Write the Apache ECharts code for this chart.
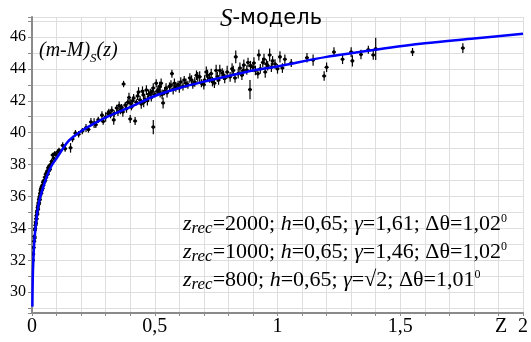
<!DOCTYPE html>
<html>
<head>
<meta charset="utf-8">
<script src="https://cdn.jsdelivr.net/npm/echarts@6/dist/echarts.min.js"></script>
<style>
  html, body { margin: 0; padding: 0; background: #fff; }
  #chart { width: 531px; height: 342px; }
</style>
</head>
<body>
<div id="chart"></div>
<script>
// model curve (m-M)_S(z)
const curveZ = [0.0015, 0.003, 0.005, 0.01, 0.02, 0.03, 0.05, 0.075, 0.1, 0.15, 0.2, 0.25, 0.3, 0.4, 0.5, 0.6, 0.7, 0.8, 0.9, 1.0, 1.2, 1.4, 1.6, 1.8, 2.0];
const curveMu = [29.1, 30.8, 31.8, 33.3, 34.8, 35.75, 36.8, 37.8, 38.4, 39.5, 40.1, 40.55, 40.95, 41.6, 42.3, 42.8, 43.2, 43.55, 43.9, 44.15, 44.75, 45.2, 45.6, 45.9, 46.2];

// supernovae: redshift, distance modulus, error
const snZ = [
  0.004, 0.005, 0.007, 0.009, 0.010, 0.011, 0.012, 0.013, 0.014, 0.015, 0.016, 0.017, 0.018, 0.019, 0.020,
  0.021, 0.022, 0.023, 0.024, 0.025, 0.026, 0.027, 0.028, 0.029, 0.030, 0.031, 0.032, 0.033, 0.034, 0.035,
  0.036, 0.037, 0.038, 0.039, 0.040, 0.042, 0.043, 0.045, 0.046, 0.048, 0.050, 0.052, 0.054, 0.056, 0.058,
  0.060, 0.062, 0.064, 0.066, 0.068, 0.070, 0.073, 0.076, 0.080, 0.084, 0.088, 0.093, 0.098, 0.105, 0.110,
  0.125, 0.135, 0.157, 0.165, 0.177, 0.190, 0.205, 0.220, 0.230, 0.240, 0.253, 0.260, 0.270, 0.285, 0.290,
  0.300, 0.310, 0.313, 0.320, 0.325, 0.333, 0.335, 0.345, 0.350, 0.355, 0.360, 0.365, 0.370, 0.373, 0.380,
  0.385, 0.390, 0.395, 0.400, 0.400, 0.405, 0.410, 0.414, 0.420, 0.425, 0.430, 0.434, 0.440, 0.445, 0.450,
  0.454, 0.455, 0.460, 0.466, 0.470, 0.475, 0.482, 0.486, 0.490, 0.494, 0.494, 0.500, 0.506, 0.510, 0.514,
  0.520, 0.522, 0.526, 0.530, 0.534, 0.540, 0.546, 0.550, 0.560, 0.566, 0.570, 0.575, 0.580, 0.586, 0.595,
  0.600, 0.606, 0.615, 0.620, 0.627, 0.635, 0.643, 0.650, 0.655, 0.663, 0.670, 0.675, 0.683, 0.690, 0.700,
  0.703, 0.710, 0.715, 0.723, 0.730, 0.735, 0.743, 0.750, 0.755, 0.760, 0.765, 0.775, 0.780, 0.785, 0.795,
  0.807, 0.815, 0.820, 0.827, 0.830, 0.840, 0.847, 0.855, 0.860, 0.863, 0.875, 0.880, 0.888, 0.890, 0.900,
  0.904, 0.910, 0.920, 0.924, 0.930, 0.940, 0.945, 0.950, 0.955, 0.960, 0.968, 0.975, 0.980, 0.990, 1.000,
  1.010, 1.020, 1.030, 1.056, 1.120, 1.145, 1.190, 1.200, 1.230, 1.265, 1.300, 1.305, 1.340, 1.370, 1.390,
  1.400, 1.550, 1.755
];
const snMu = [
  32.0, 32.4, 32.8, 33.2, 33.5, 33.4, 33.9, 34.0, 34.2, 34.4, 34.3, 34.6, 34.8, 34.6, 35.0,
  35.1, 34.9, 35.3, 35.4, 35.2, 35.6, 35.5, 35.8, 35.6, 35.9, 36.0, 35.8, 36.2, 36.1, 36.4,
  36.3, 36.5, 36.2, 36.6, 36.4, 36.7, 36.5, 36.9, 36.7, 37.0, 36.9, 37.2, 37.0, 37.4, 37.2,
  37.5, 37.6, 37.4, 37.8, 37.6, 37.9, 37.7, 38.0, 38.2, 38.6, 38.4, 38.7, 38.6, 38.8, 38.9,
  39.2, 39.0, 39.05, 39.6, 39.97, 39.9, 40.1, 40.3, 40.2, 40.67, 40.6, 40.5, 40.8, 41.1, 40.7,
  40.98, 41.2, 41.3, 41.1, 41.4, 40.8, 41.2, 41.55, 41.3, 41.7, 41.4, 41.6, 41.3, 43.05, 41.73,
  41.5, 41.9, 42.2, 41.86, 40.86, 41.6, 42.0, 42.17, 40.73, 41.9, 42.3, 42.55, 42.05, 41.8, 42.6,
  42.36, 41.9, 42.1, 42.67, 42.0, 42.4, 42.5, 42.2, 42.6, 42.8, 40.35, 42.4, 43.1, 42.6, 42.67,
  42.9, 42.5, 43.1, 42.4, 41.86, 42.6, 42.8, 42.5, 42.9, 42.99, 43.7, 42.7, 43.1, 42.86, 43.0,
  42.8, 43.18, 42.9, 43.3, 43.1, 43.0, 43.43, 43.3, 43.0, 43.18, 43.6, 43.5, 43.5, 43.1, 43.0,
  43.3, 43.8, 43.6, 43.43, 43.7, 43.2, 43.1, 43.9, 43.5, 43.3, 43.9, 43.74, 43.6, 43.4, 43.8,
  43.5, 44.0, 43.9, 43.43, 44.75, 43.7, 44.05, 43.6, 43.9, 44.24, 43.93, 44.4, 42.7, 44.2, 44.1,
  44.37, 43.9, 43.7, 44.87, 44.0, 44.4, 44.6, 43.8, 44.3, 44.2, 44.87, 44.1, 44.5, 44.3, 44.0,
  44.75, 44.05, 44.6, 44.37, 44.7, 44.55, 43.55, 44.1, 45.05, 44.6, 45.05, 44.5, 44.9, 45.2, 44.87,
  45.25, 45.06, 45.3
];
const snErr = [
  0.15, 0.15, 0.15, 0.12, 0.12, 0.12, 0.12, 0.12, 0.12, 0.12, 0.12, 0.12, 0.12, 0.12, 0.12,
  0.12, 0.12, 0.12, 0.12, 0.12, 0.12, 0.12, 0.12, 0.12, 0.12, 0.12, 0.12, 0.12, 0.12, 0.12,
  0.12, 0.12, 0.12, 0.12, 0.12, 0.12, 0.12, 0.12, 0.12, 0.12, 0.12, 0.12, 0.15, 0.12, 0.15,
  0.12, 0.15, 0.12, 0.15, 0.15, 0.15, 0.15, 0.15, 0.15, 0.15, 0.15, 0.15, 0.15, 0.15, 0.15,
  0.2, 0.2, 0.3, 0.2, 0.2, 0.2, 0.2, 0.25, 0.2, 0.25, 0.3, 0.2, 0.2, 0.25, 0.2,
  0.3, 0.2, 0.2, 0.2, 0.25, 0.3, 0.2, 0.2, 0.25, 0.25, 0.25, 0.2, 0.3, 0.2, 0.2,
  0.25, 0.2, 0.3, 0.25, 0.25, 0.2, 0.25, 0.25, 0.25, 0.2, 0.25, 0.3, 0.25, 0.3, 0.3,
  0.25, 0.3, 0.2, 0.3, 0.3, 0.3, 0.25, 0.25, 0.25, 0.3, 0.45, 0.2, 0.25, 0.25, 0.3,
  0.3, 0.3, 0.3, 0.3, 0.35, 0.25, 0.3, 0.3, 0.25, 0.3, 0.25, 0.3, 0.3, 0.3, 0.25,
  0.3, 0.3, 0.25, 0.25, 0.3, 0.25, 0.3, 0.3, 0.25, 0.3, 0.3, 0.3, 0.35, 0.25, 0.3,
  0.3, 0.35, 0.35, 0.3, 0.3, 0.3, 0.3, 0.35, 0.3, 0.3, 0.35, 0.3, 0.3, 0.3, 0.4,
  0.3, 0.35, 0.3, 0.3, 0.4, 0.3, 0.35, 0.3, 0.35, 0.35, 0.3, 0.3, 0.6, 0.3, 0.3,
  0.35, 0.3, 0.3, 0.35, 0.3, 0.3, 0.35, 0.35, 0.3, 0.3, 0.4, 0.3, 0.3, 0.3, 0.3,
  0.35, 0.3, 0.3, 0.25, 0.3, 0.35, 0.3, 0.3, 0.3, 0.3, 0.3, 0.35, 0.3, 0.25, 0.3,
  0.7, 0.25, 0.3
];

const xLabels = { 0: '0', 0.5: '0,5', 1: '1', 1.5: '1,5', 2: '2' };
const yLabels = [30, 32, 34, 36, 38, 40, 42, 44, 46];

const notes = [
  ['2000', '0,65', '1,61', '1,02'],
  ['1000', '0,65', '1,46', '1,02'],
  ['800', '0,65', '√2', '1,01']
];

const serif = '"Liberation Serif", "DejaVu Serif", serif';
const chart = echarts.init(document.getElementById('chart'));

const noteRich = {
  i: { fontFamily: serif, fontStyle: 'italic', fontSize: 22, lineHeight: 24, verticalAlign: 'top', color: '#000' },
  n: { fontFamily: serif, fontSize: 22, lineHeight: 24, verticalAlign: 'top', color: '#000' },
  sub: { fontFamily: serif, fontStyle: 'italic', fontSize: 17, lineHeight: 14, verticalAlign: 'bottom', color: '#000' },
  sup: { fontFamily: serif, fontSize: 12, lineHeight: 12, verticalAlign: 'top', color: '#000' }
};
const noteY = [225, 253, 281];

const graphics = [
  {
    type: 'text', x: 220, y: 19, z: 100,
    style: {
      text: '{s|S}{t|-модель}', verticalAlign: 'middle',
      rich: {
        s: { fontFamily: serif, fontStyle: 'italic', fontSize: 25, lineHeight: 26, color: '#000' },
        t: { fontFamily: '"DejaVu Sans", sans-serif', fontSize: 21, lineHeight: 26, color: '#000' }
      }
    }
  },
  {
    type: 'text', x: 39, y: 53, z: 100,
    style: {
      text: '{i|(m-M)}{sub|S}{i|(z)}', verticalAlign: 'middle',
      rich: {
        i: { fontFamily: serif, fontStyle: 'italic', fontSize: 20, lineHeight: 24, verticalAlign: 'top', color: '#000' },
        sub: { fontFamily: serif, fontStyle: 'italic', fontSize: 13, lineHeight: 12, verticalAlign: 'bottom', color: '#000' }
      }
    }
  },
  {
    type: 'text', x: 495, y: 327, z: 100,
    style: { text: 'Z', fontFamily: serif, fontSize: 20, verticalAlign: 'middle', fill: '#000' }
  }
];
notes.forEach(function (n, k) {
  graphics.push({
    type: 'text', x: 183, y: noteY[k], z: 100,
    style: {
      text: '{i|z}{sub|rec}{n|=' + n[0] + '; }{i|h}{n|=' + n[1] + '; }{i|γ}{n|=' + n[2] + '; Δθ=' + n[3] + '}{sup|0}',
      verticalAlign: 'middle',
      rich: noteRich
    }
  });
});

const snData = snZ.map(function (z, i) { return [z, snMu[i], snErr[i]]; });

chart.setOption({
  animation: false,
  grid: { left: 32, right: 1, top: 17, bottom: 29 },
  xAxis: {
    type: 'value', min: 0, max: 2, interval: 0.1,
    axisLine: { lineStyle: { color: '#8a8a8a', width: 2 } },
    axisTick: { length: 3, lineStyle: { color: '#8a8a8a' } },
    splitLine: { lineStyle: { color: '#dedede', width: 1 } },
    axisLabel: {
      margin: 4, fontFamily: serif, fontSize: 20, color: '#000',
      formatter: function (v) {
        const key = Math.round(v * 10) / 10;
        return xLabels[key] !== undefined ? xLabels[key] : '';
      }
    }
  },
  yAxis: {
    type: 'value', min: 28.7, max: 47.25, splitNumber: 18,
    axisLine: { show: true, lineStyle: { color: '#8a8a8a', width: 2 } },
    axisTick: { show: true, length: 4, lineStyle: { color: '#8a8a8a' } },
    splitLine: { lineStyle: { color: '#dedede', width: 1 } },
    axisLabel: {
      margin: 6, fontFamily: serif, fontSize: 16, color: '#000',
      formatter: function (v) {
        return yLabels.indexOf(Math.round(v * 1000) / 1000) >= 0 ? String(v) : '';
      }
    }
  },
  graphic: graphics,
  series: [
    {
      type: 'custom',
      clip: true,
      data: snData,
      renderItem: function (params, api) {
        const z = api.value(0), mu = api.value(1), e = api.value(2);
        const p = api.coord([z, mu]);
        const lo = api.coord([z, mu - e]);
        const hi = api.coord([z, mu + e]);
        return {
          type: 'group',
          children: [
            { type: 'line', shape: { x1: p[0], y1: lo[1], x2: p[0], y2: hi[1] }, style: { stroke: '#000', lineWidth: 1.2 } },
            { type: 'line', shape: { x1: p[0] - 2, y1: p[1], x2: p[0] + 2, y2: p[1] }, style: { stroke: '#000', lineWidth: 1.2 } },
            { type: 'circle', shape: { cx: p[0], cy: p[1], r: 1.8 }, style: { fill: '#000' } }
          ]
        };
      }
    },
    {
      type: 'line',
      data: curveZ.map(function (z, i) { return [z, curveMu[i]]; }),
      smooth: 0.3,
      showSymbol: false,
      lineStyle: { color: '#0000ff', width: 2.5 },
      z: 3
    }
  ]
});
</script>
</body>
</html>
